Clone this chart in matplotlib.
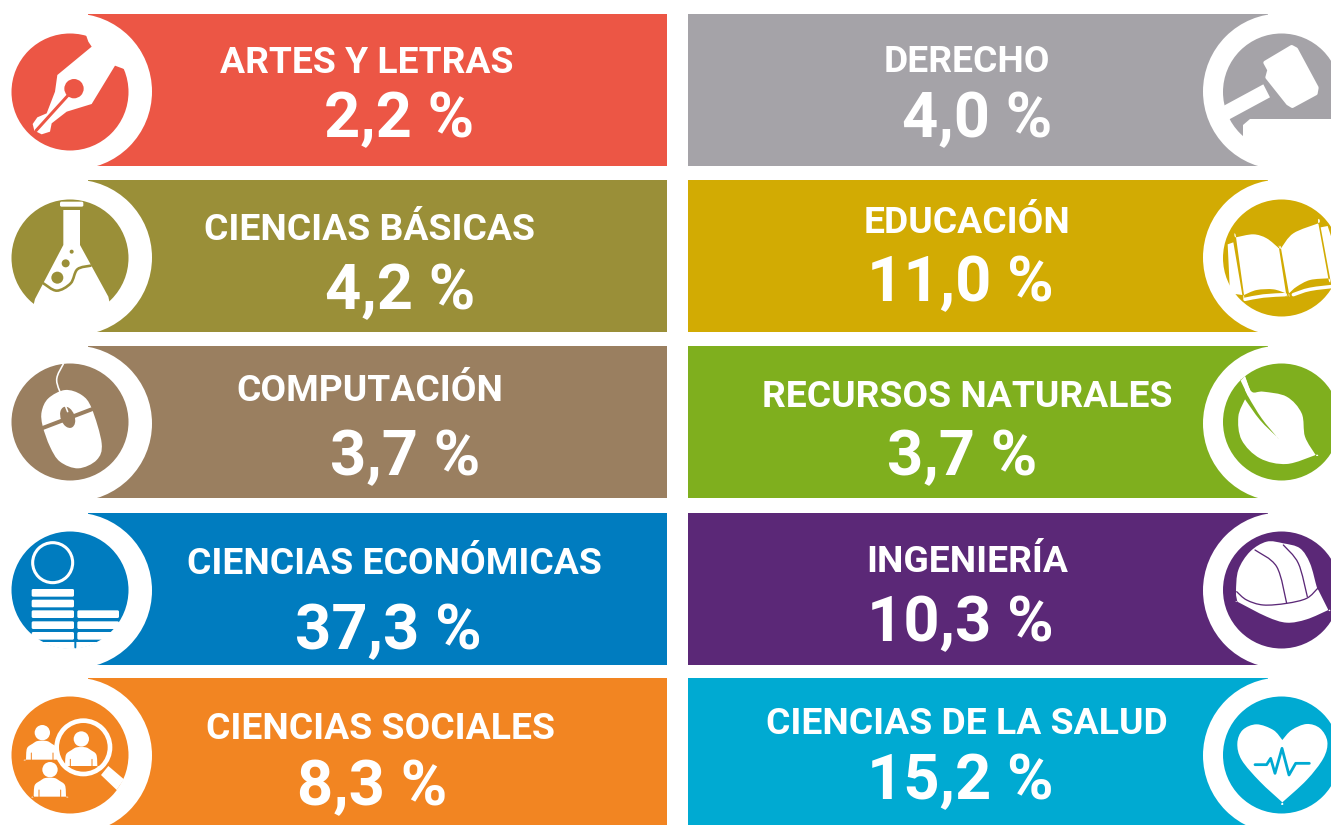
import numpy as np
import matplotlib
matplotlib.use("Agg")
import matplotlib.pyplot as plt
from matplotlib.patches import Circle, PathPatch, Polygon, Rectangle, Ellipse, FancyBboxPatch
from matplotlib.path import Path

# Data
left_areas = ["ARTES Y LETRAS", "CIENCIAS BÁSICAS", "COMPUTACIÓN", "CIENCIAS ECONÓMICAS", "CIENCIAS SOCIALES"]
left_values = [2.2, 4.2, 3.7, 37.3, 8.3]
left_colors = ["#EC5645", "#9A8F38", "#9A7F60", "#007CBF", "#F28522"]

right_areas = ["DERECHO", "EDUCACIÓN", "RECURSOS NATURALES", "INGENIERÍA", "CIENCIAS DE LA SALUD"]
right_values = [4.0, 11.0, 3.7, 10.3, 15.2]
right_colors = ["#A5A3A8", "#D2AB03", "#7FAF1E", "#5B2877", "#00AAD2"]

# Layout, in pixels of the original picture
row_tops = [14, 180, 346, 513, 678]
row_bottoms = [166, 332, 498, 665, 825]
icon_cy = [92, 258, 422, 590, 755]

left_label_x = [367, 369, 370, 394, 381]
left_label_y = [73, 240, 401, 574, 739]
left_value_x = [399, 400, 405, 388, 372]
left_value_y = [137, 309, 475, 649, 805]
right_label_x = [967, 967, 967, 967, 967]
right_label_y = [72, 233, 407, 572, 734]
right_value_x = [977, 960, 962, 960, 960]
right_value_y = [137, 301, 475, 641, 799]

WHITE = "white"

fig = plt.figure(figsize=(13.31, 8.25), dpi=100)
ax = fig.add_axes([0, 0, 1, 1])
ax.set_xlim(0, 1331)
ax.set_ylim(825, 0)
ax.axis("off")


def smooth(points, closed=True):
    """Catmull-Rom through the points, as a bezier path. A doubled point gives a corner."""
    pts = np.array(points, dtype=float)
    n = len(pts)
    verts = [pts[0]]
    codes = [Path.MOVETO]
    last = n if closed else n - 1
    for i in range(last):
        if closed:
            p0, p1, p2, p3 = pts[(i - 1) % n], pts[i], pts[(i + 1) % n], pts[(i + 2) % n]
        else:
            p0, p1, p2, p3 = pts[max(i - 1, 0)], pts[i], pts[i + 1], pts[min(i + 2, n - 1)]
        verts += [p1 + (p2 - p0) / 6, p2 - (p3 - p1) / 6, p2]
        codes += [Path.CURVE4] * 3
    return Path(verts, codes)


def zoom_pts(points, x0, y0):
    return [(x0 + x / 3, y0 + y / 3) for x, y in points]


def blob(points, x0, y0, color, zorder=5):
    ax.add_patch(PathPatch(smooth(zoom_pts(points, x0, y0)), fc=color, ec="none", zorder=zorder))


def poly(points, x0, y0, color, zorder=5):
    patch = Polygon(zoom_pts(points, x0, y0), closed=True, fc=color, ec="none", zorder=zorder)
    ax.add_patch(patch)
    return patch


def stroke(points, x0, y0, color, width, zorder=6):
    ax.add_patch(PathPatch(smooth(zoom_pts(points, x0, y0), closed=False), fc="none", ec=color,
                           lw=width * 0.72, capstyle="round", zorder=zorder))


def disc(cx, cy, r, x0, y0, color, zorder=6):
    ax.add_patch(Circle((x0 + cx / 3, y0 + cy / 3), r / 3, fc=color, ec="none", zorder=zorder))


def round_bar(x1, y1, x2, y2, x0, y0, color=WHITE, zorder=6):
    ax.add_patch(FancyBboxPatch((x0 + x1 / 3 + 1.5, y0 + y1 / 3 + 1.5), (x2 - x1) / 3 - 3, (y2 - y1) / 3 - 3,
                                boxstyle="round,pad=1.5", fc=color, ec="none", zorder=zorder))


def pen_icon(c):
    x0, y0 = 0, 0
    poly([(258, 105), (265, 125), (275, 140), (172, 225), (165, 275), (140, 340), (112, 352),
          (98, 372), (103, 392), (125, 403), (150, 395), (155, 370), (200, 335), (275, 312),
          (345, 197), (372, 207), (420, 150), (330, 80)], x0, y0, WHITE)
    disc(222, 266, 29, x0, y0, c)
    stroke([(108, 392), (205, 285)], x0, y0, c, 3)


def flask_icon(c):
    x0, y0 = 0, 0
    round_bar(180, 605, 250, 620, x0, y0)
    poly([(190, 630), (240, 630), (240, 735), (325, 890), (340, 960), (90, 960), (105, 897), (190, 735)],
         x0, y0, WHITE)
    disc(215, 755, 6, x0, y0, c)
    disc(197, 790, 12, x0, y0, c)
    disc(172, 833, 18, x0, y0, c)
    stroke([(130, 850), (170, 872), (212, 850), (232, 808), (272, 797)], x0, y0, c, 2.6)


def mouse_icon(c):
    x0, y0 = 0, 340
    blob([(125, 215), (145, 175), (195, 150), (245, 165), (275, 205), (305, 310), (290, 360),
          (235, 385), (180, 365), (150, 320), (128, 258)], x0, y0, WHITE)
    stroke([(128, 264), (275, 208)], x0, y0, c, 4)
    ax.add_patch(Ellipse((x0 + 203 / 3, y0 + 232 / 3), 14, 22, angle=-20, fc=c, ec="none", zorder=7))
    stroke([(190, 72), (170, 120), (190, 180), (203, 215)], x0, y0, WHITE, 1.6, zorder=8)


def coins_icon(c):
    x0, y0 = 0, 340
    # everything below the last row of coins is cut out of the disc
    cut = poly([(20, 905), (400, 905), (400, 970), (20, 970)], x0, y0, WHITE)
    cut.set_clip_path(Circle((70, 590), 59, transform=ax.transData))
    ax.add_patch(Circle((x0 + 158 / 3, y0 + 668 / 3), 60 / 3, fc="none", ec=WHITE, lw=2.2, zorder=6))
    for top in [747, 779, 811, 844, 876]:
        round_bar(95, top, 222, top + 23, x0, y0)
    for top in [811, 844, 876]:
        round_bar(232, top, 357, top + 23, x0, y0)
    stroke([(226, 898), (226, 922)], x0, y0, c, 2)


def person(x, top, x0, y0, c, zorder=5):
    # x is the left edge of the shoulders in the crop
    disc(x + 49, top - 25, 23, x0, y0, WHITE, zorder=zorder)
    blob([(x, top + 56), (x, top + 56), (x + 3, top + 22), (x + 20, top + 8), (x + 35, top), (x + 62, top),
          (x + 77, top + 8), (x + 94, top + 22), (x + 97, top + 56), (x + 97, top + 56)], x0, y0, WHITE,
         zorder=zorder)
    stroke([(x + 16, top + 56), (x + 16, top + 36)], x0, y0, c, 1, zorder=zorder + 1)
    stroke([(x + 81, top + 56), (x + 81, top + 36)], x0, y0, c, 1, zorder=zorder + 1)


def people_icon(c):
    x0, y0 = 0, 340
    person(78, 1203, x0, y0, c)
    disc(250, 1222, 87, x0, y0, WHITE, zorder=6)
    disc(250, 1222, 73, x0, y0, c, zorder=6)
    poly([(325, 1278), (372, 1318), (350, 1350), (303, 1305)], x0, y0, WHITE, zorder=6)
    poly([(350, 1350), (372, 1318), (420, 1360), (390, 1400)], x0, y0, WHITE, zorder=6)
    person(195, 1222, x0, y0, c, zorder=7)
    person(101, 1314, x0, y0, c, zorder=7)


def gavel_icon(c):
    x0, y0 = 1150, 0
    head = poly([(346, 188), (425, 141), (438, 148), (500, 263), (497, 280), (427, 318), (414, 310),
                 (352, 232), (358, 210)], x0, y0, WHITE)
    head.set(ec=WHITE, lw=4 * 0.72, joinstyle="round")
    poly([(205, 326), (340, 253), (360, 292), (225, 365)], x0, y0, WHITE)
    poly([(300, 358), (560, 358), (560, 460), (280, 460), (280, 375)], x0, y0, WHITE)


def book_icon(c):
    x0, y0 = 1150, 0
    blob([(258, 712), (258, 712), (310, 703), (350, 715), (387, 745), (387, 745), (408, 880), (408, 880),
          (370, 868), (320, 870), (282, 885), (282, 885)], x0, y0, WHITE)
    blob([(393, 745), (393, 745), (430, 700), (505, 670), (505, 670), (535, 835), (535, 835), (480, 840),
          (440, 860), (417, 880), (417, 880)], x0, y0, WHITE)
    poly([(233, 733), (250, 727), (277, 885), (240, 880)], x0, y0, WHITE)
    poly([(512, 682), (533, 678), (560, 760), (560, 850), (543, 850)], x0, y0, WHITE)
    stroke([(285, 898), (340, 888), (405, 884)], x0, y0, WHITE, 3.5)
    stroke([(430, 884), (480, 868), (560, 858)], x0, y0, WHITE, 3.5)


def leaf_icon(c):
    x0, y0 = 1150, 340
    blob([(285, 178), (285, 178), (265, 230), (275, 300), (330, 355), (410, 372), (497, 345), (497, 345),
          (465, 290), (455, 220), (410, 170), (340, 155), (305, 155), (285, 110), (285, 110)], x0, y0, WHITE)
    blob([(272, 122), (272, 122), (295, 170), (335, 235), (380, 290), (380, 290), (330, 240), (285, 178),
          (285, 178)], x0, y0, c, zorder=6)
    poly([(272, 122), (285, 108), (300, 150), (295, 170)], x0, y0, WHITE, zorder=6)


def helmet_icon(c):
    x0, y0 = 1150, 340
    blob([(258, 755), (265, 690), (300, 635), (350, 605), (400, 610), (450, 625), (480, 670), (500, 740),
          (505, 750), (505, 750), (535, 810), (535, 810), (470, 838), (410, 848), (350, 830), (262, 785), (262, 785)],
         x0, y0, WHITE)
    stroke([(260, 755), (290, 780), (340, 795), (410, 790), (470, 775), (503, 745)], x0, y0, c, 1.3)
    stroke([(315, 630), (380, 680), (410, 790)], x0, y0, c, 1.3)
    stroke([(400, 615), (445, 670), (472, 770)], x0, y0, c, 1.3)


def heart_icon(c):
    x0, y0 = 1150, 340
    blob([(397, 1200), (397, 1200), (370, 1170), (320, 1153), (278, 1170), (262, 1210), (275, 1260), (330, 1325),
          (397, 1387), (397, 1387), (470, 1320), (520, 1255), (532, 1205), (510, 1165), (470, 1152), (425, 1170)],
         x0, y0, WHITE)
    line = [(315, 1274), (350, 1274), (362, 1255), (375, 1300), (396, 1225), (417, 1305), (437, 1270), (478, 1270)]
    ax.plot(*zip(*zoom_pts(line, x0, y0)), color=c, lw=2.0, solid_capstyle="round", solid_joinstyle="round", zorder=6)


def pct(value):
    return f"{value:.1f}".replace(".", ",") + " %"


def draw_tile(bar_x0, bar_x1, row, color, ring_cx, icon_cx):
    ax.add_patch(Rectangle((bar_x0, row_tops[row]), bar_x1 - bar_x0, row_bottoms[row] - row_tops[row],
                           fc=color, ec="none", zorder=1))
    ax.add_patch(Circle((ring_cx, row_tops[row] + 77.5), 78, fc=WHITE, ec="none", zorder=2))
    ax.add_patch(Circle((icon_cx, icon_cy[row]), 58.5, fc=color, ec="none", zorder=3))


def write(x, y, s, size):
    ax.text(x, y, s, color=WHITE, fontsize=size, fontweight="bold", family=["Roboto", "DejaVu Sans"],
            ha="center", va="baseline", zorder=10)


left_icons = [pen_icon, flask_icon, mouse_icon, coins_icon, people_icon]
right_icons = [gavel_icon, book_icon, leaf_icon, helmet_icon, heart_icon]

for i in range(5):
    draw_tile(88, 667, i, left_colors[i], 74, 70)
    left_icons[i](left_colors[i])
    write(left_label_x[i], left_label_y[i], left_areas[i], 26.8)
    write(left_value_x[i], left_value_y[i], pct(left_values[i]), 45.5)

    draw_tile(688, 1268, i, right_colors[i], 1281, 1281.5)
    right_icons[i](right_colors[i])
    write(right_label_x[i], right_label_y[i], right_areas[i], 26.8)
    write(right_value_x[i], right_value_y[i], pct(right_values[i]), 45.5)

fig.savefig("out.png", dpi=100, facecolor="white")
